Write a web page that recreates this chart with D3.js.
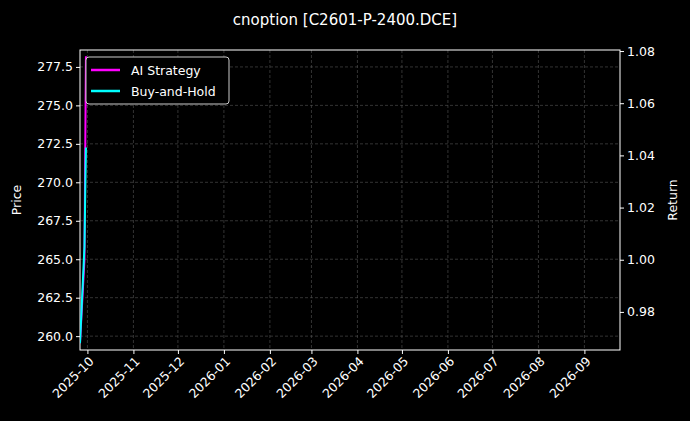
<!DOCTYPE html>
<html><head><meta charset="utf-8">
<script src="https://cdn.jsdelivr.net/npm/d3@7"></script>
<style>body{margin:0;background:#000;} text{font-family:"DejaVu Sans",sans-serif;fill:#fff;}</style>
</head><body><div id="chart"></div>
<script>
const dates = ['2025-09-26', '2025-09-29', '2025-09-30'];
const aiReturn = [0.968, 1.0, 1.078];
const bhReturn = [0.968, 1.005, 1.043];
const priceTicks = [260.0, 262.5, 265.0, 267.5, 270.0, 272.5, 275.0, 277.5];
const returnTicks = [0.98, 1.0, 1.02, 1.04, 1.06, 1.08];

const width = 690, height = 421;
const margin = { top: 50, right: 70, bottom: 71, left: 80 };
const cw = width - margin.left - margin.right, ch = height - margin.top - margin.bottom;
const parse = d3.timeParse('%Y-%m-%d');

const svg = d3.select('#chart').append('svg').attr('width', width).attr('height', height)
  .style('background', '#000');
const g = svg.append('g').attr('transform', `translate(${margin.left},${margin.top})`);

const x = d3.scaleTime().domain([parse('2025-09-26'), parse('2026-09-25')]).range([0, cw]);
const yP = d3.scaleLinear().domain([259.1, 278.6]).range([ch, 0]);
const yR = d3.scaleLinear().domain([0.9654, 1.0804]).range([ch, 0]);
const months = d3.timeMonth.range(parse('2025-10-01'), parse('2026-09-02'));

// gridlines
g.append('g').selectAll('line').data(months).join('line')
  .attr('x1', d => x(d)).attr('x2', d => x(d)).attr('y1', 0).attr('y2', ch)
  .attr('stroke', '#555').attr('stroke-dasharray', '3,2').attr('stroke-width', 0.6);
g.append('g').selectAll('line').data(priceTicks).join('line')
  .attr('x1', 0).attr('x2', cw).attr('y1', d => yP(d)).attr('y2', d => yP(d))
  .attr('stroke', '#555').attr('stroke-dasharray', '3,2').attr('stroke-width', 0.6);

const styleAxis = sel => { sel.selectAll('path,line').attr('stroke', '#fff');
  sel.selectAll('text').attr('font-size', 12.5).attr('fill', '#fff'); sel.select('.domain').remove(); };

g.append('g').call(d3.axisLeft(yP).tickValues(priceTicks).tickFormat(d3.format('.1f')).tickSize(4)).call(styleAxis);
g.append('g').attr('transform', `translate(${cw},0)`)
  .call(d3.axisRight(yR).tickValues(returnTicks).tickFormat(d3.format('.2f')).tickSize(4)).call(styleAxis);
const xa = g.append('g').attr('transform', `translate(0,${ch})`)
  .call(d3.axisBottom(x).tickValues(months).tickFormat(d3.timeFormat('%Y-%m')).tickSize(4)).call(styleAxis);
xa.selectAll('text').attr('text-anchor', 'end').attr('dx', '-0.3em').attr('dy', '0.5em')
  .attr('transform', 'rotate(-45)');

g.append('rect').attr('width', cw).attr('height', ch).attr('fill', 'none').attr('stroke', '#fff').attr('stroke-width', 1);

const line = d3.line().x((d, i) => x(parse(dates[i]))).y(d => yR(d));
g.append('defs').append('clipPath').attr('id', 'clip').append('rect').attr('width', cw).attr('height', ch);
g.append('path').attr('d', line(aiReturn)).attr('fill', 'none').attr('stroke', '#ff00ff').attr('stroke-width', 2).attr('clip-path', 'url(#clip)');
g.append('path').attr('d', line(bhReturn)).attr('fill', 'none').attr('stroke', '#00ffff').attr('stroke-width', 2).attr('clip-path', 'url(#clip)');

// labels
svg.append('text').attr('x', width / 2).attr('y', 25).attr('text-anchor', 'middle').attr('font-size', 15)
  .text('cnoption [C2601-P-2400.DCE]');
svg.append('text').attr('transform', `translate(21,${margin.top + ch / 2}) rotate(-90)`).attr('text-anchor', 'middle')
  .attr('font-size', 12.5).text('Price');
svg.append('text').attr('transform', `translate(677,${margin.top + ch / 2}) rotate(-90)`).attr('text-anchor', 'middle')
  .attr('font-size', 12.5).text('Return');

// legend
const lg = g.append('g').attr('transform', 'translate(6,7)');
lg.append('rect').attr('width', 143).attr('height', 47).attr('rx', 3).attr('fill', '#000').attr('stroke', '#ccc');
[['AI Strategy', '#ff00ff'], ['Buy-and-Hold', '#00ffff']].forEach(([t, c], i) => {
  lg.append('line').attr('x1', 5).attr('x2', 34).attr('y1', 13 + i * 21).attr('y2', 13 + i * 21).attr('stroke', c).attr('stroke-width', 2.5);
  lg.append('text').attr('x', 45).attr('y', 17.5 + i * 21).attr('font-size', 12.5).text(t);
});
</script></body></html>
